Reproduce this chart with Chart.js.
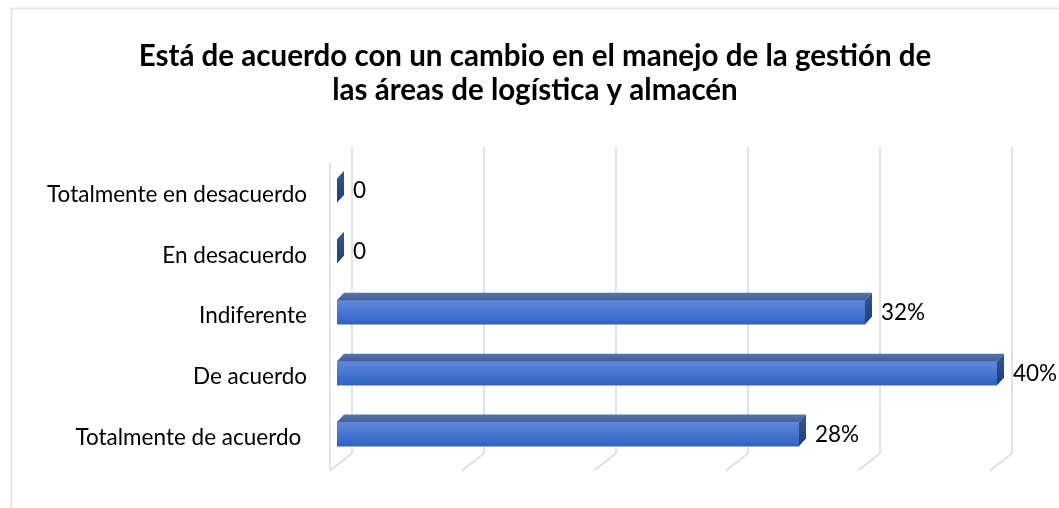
<!DOCTYPE html>
<html><head><meta charset="utf-8">
<script src="https://cdn.jsdelivr.net/npm/chart.js@4"></script>
<style>html,body{margin:0;padding:0;background:#fff;overflow:hidden}#wrap{width:1059px;height:508px;position:relative}</style>
</head><body><div id="wrap"><canvas id="c" width="1059" height="508"></canvas></div>
<script>
const titleLines = ['Está de acuerdo con un cambio en el manejo de la gestión de', 'las áreas de logística y almacén'];
const categories = ['Totalmente en desacuerdo', 'En desacuerdo', 'Indiferente', 'De acuerdo', 'Totalmente de acuerdo '];
const percentValues = [0, 0, 32, 40, 28];
const valueLabels = ['0', '0', '32%', '40%', '28%'];
const gridValues = [0, 8, 16, 24, 32, 40];

const FONT = 'Lato';
function fitSize(text, weight, target) {
  const c = document.createElement('canvas').getContext('2d');
  c.font = weight + ' 100px ' + FONT;
  return 100 * target / c.measureText(text).width;
}
const titleSize = fitSize(titleLines[0], 'bold', 793);
const labelSize = fitSize(categories[0], 'normal', 260);

const DX = 7, DY = 7.5;
const PAD_L = 30, PAD_R = 19, PAD_B = 34;
const PLOT_LEFT = 337, PLOT_RIGHT = 997;

const frame = {
  id: 'frame',
  beforeDraw(chart) {
    const ctx = chart.ctx;
    ctx.save();
    ctx.strokeStyle = '#e2e5ea';
    ctx.lineWidth = 2;
    ctx.beginPath();
    ctx.moveTo(11.5, 508); ctx.lineTo(11.5, 8.5); ctx.lineTo(1059, 8.5);
    ctx.stroke();
    ctx.restore();
  }
};

const walls = {
  id: 'walls',
  beforeDatasetsDraw(chart) {
    const ctx = chart.ctx, a = chart.chartArea, xs = chart.scales.x;
    ctx.save();
    ctx.strokeStyle = '#d9dde6';
    ctx.lineWidth = 1.6;
    gridValues.forEach(v => {
      const px = xs.getPixelForValue(v);
      ctx.beginPath();
      ctx.moveTo(px + 15, a.top - 13);
      ctx.lineTo(px + 15, a.bottom - 11);
      ctx.lineTo(px - 7, a.bottom + 6);
      ctx.stroke();
    });
    const lx = xs.getPixelForValue(0) - 7;
    ctx.beginPath();
    ctx.moveTo(lx, a.top + 3);
    ctx.lineTo(lx, a.bottom + 6);
    ctx.stroke();
    ctx.restore();
  }
};

const faces = {
  id: 'faces',
  afterDatasetsDraw(chart) {
    const ctx = chart.ctx;
    const meta = chart.getDatasetMeta(0);
    ctx.save();
    meta.data.forEach((el, i) => {
      const p = el.getProps(['x', 'y', 'base', 'height'], true);
      const t = p.y - p.height / 2, b = p.y + p.height / 2;
      if (p.x > p.base) {
        ctx.beginPath();
        ctx.moveTo(p.base, t);
        ctx.lineTo(p.x, t);
        ctx.lineTo(p.x + DX, t - DY);
        ctx.lineTo(p.base + DX, t - DY);
        ctx.closePath();
        const g = ctx.createLinearGradient(0, t - DY, 0, t);
        g.addColorStop(0, '#5a73a3');
        g.addColorStop(1, '#44609a');
        ctx.fillStyle = g;
        ctx.fill();
      }
      ctx.beginPath();
      ctx.moveTo(p.x, t);
      ctx.lineTo(p.x + DX, t - DY);
      ctx.lineTo(p.x + DX, b - DY);
      ctx.lineTo(p.x, b);
      ctx.closePath();
      const gs = ctx.createLinearGradient(0, t - DY, 0, b);
      gs.addColorStop(0, '#34568f');
      gs.addColorStop(1, '#203f7c');
      ctx.fillStyle = gs;
      ctx.fill();
      ctx.fillStyle = '#000';
      ctx.font = labelSize + 'px ' + FONT;
      ctx.textAlign = 'left';
      ctx.textBaseline = 'middle';
      ctx.fillText(valueLabels[i], p.x + DX + 9, p.y + 0.5);
    });
    ctx.restore();
  }
};

new Chart(document.getElementById('c'), {
  type: 'bar',
  data: {
    labels: categories,
    datasets: [{
      data: percentValues,
      borderWidth: 0,
      barThickness: 24,
      yAxisID: 'y',
      backgroundColor: (c) => {
        const ch = c.chart;
        if (!ch.chartArea || c.dataIndex === undefined) return '#4472c4';
        const yy = ch.scales.y.getPixelForValue(c.dataIndex);
        const g = ch.ctx.createLinearGradient(0, yy - 12, 0, yy + 12);
        g.addColorStop(0, '#6189da');
        g.addColorStop(0.45, '#4b78d1');
        g.addColorStop(1, '#2f62c2');
        return g;
      }
    }]
  },
  options: {
    indexAxis: 'y',
    responsive: false,
    animation: false,
    devicePixelRatio: 1,
    layout: { padding: { left: PAD_L, right: PAD_R, top: 0, bottom: PAD_B } },
    plugins: {
      legend: { display: false },
      tooltip: { enabled: false },
      title: {
        display: true,
        text: titleLines,
        color: '#000',
        font: { family: FONT, weight: 'bold', size: titleSize, lineHeight: '34px' },
        padding: { top: 39, bottom: 53 }
      }
    },
    scales: {
      x: { display: false, min: 0, max: 40 },
      y: {
        type: 'category',
        position: 'left',
        grid: { display: false, drawTicks: false },
        border: { display: false },
        ticks: { color: '#000', font: { family: FONT, size: labelSize }, padding: 30, labelOffset: 4 },
        afterFit: (s) => { s.width = PLOT_LEFT - PAD_L; }
      },
      y2: {
        type: 'category',
        axis: 'y',
        position: 'right',
        labels: categories,
        grid: { display: false, drawTicks: false },
        border: { display: false },
        ticks: { display: false },
        afterFit: (s) => { s.width = (1059 - PAD_R) - PLOT_RIGHT; }
      }
    }
  },
  plugins: [frame, walls, faces]
});
</script>
</body></html>
